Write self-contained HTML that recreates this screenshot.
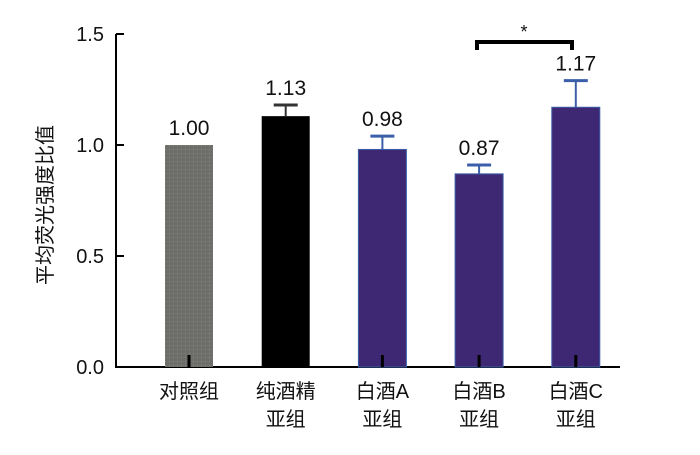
<!DOCTYPE html>
<html><head><meta charset="utf-8"><style>
body{margin:0;background:#fff;}
svg{display:block;font-family:"Liberation Sans","Noto Sans CJK SC",sans-serif;}
</style></head><body>
<svg id="chart" width="700" height="455" viewBox="0 0 700 455">
<defs><pattern id="dots" width="4" height="4" patternUnits="userSpaceOnUse"><rect width="4" height="4" fill="#6e6e6a"/><rect x="1" y="1" width="1" height="1" fill="#8a8a86"/></pattern></defs>
<g id="axes"></g><g id="bars"></g><g id="labels"></g>
<text x="0" y="0" transform="translate(52,205) rotate(-90)" text-anchor="middle" font-size="20" fill="#111">平均荧光强度比值</text>
<path d="M477,50 V42 H572 V50" fill="none" stroke="#000" stroke-width="4"/>
<text x="524" y="38" text-anchor="middle" font-size="18" fill="#111">*</text>
</svg>
<script>
const categories=[["对照组"],["纯酒精","亚组"],["白酒A","亚组"],["白酒B","亚组"],["白酒C","亚组"]];
const values=[1.00,1.13,0.98,0.87,1.17];
const errors=[0,0.05,0.06,0.04,0.12];
const valueLabels=["1.00","1.13","0.98","0.87","1.17"];
const ticks=[0,0.5,1.0,1.5];
const tickLabels=["0.0","0.5","1.0","1.5"];
const colors=["url(#dots)","#000","#3f2873","#3f2873","#3f2873"];
const NS="http://www.w3.org/2000/svg";
const y=v=>367-v*222;
const x=i=>189+i*96.7;
function mk(t,a,p){const e=document.createElementNS(NS,t);for(const k in a)e.setAttribute(k,a[k]);p.appendChild(e);return e;}
const ax=document.getElementById('axes'),bg=document.getElementById('bars'),lg=document.getElementById('labels');
const yl=mk('line',{x1:116,x2:116,y1:y(1.5),y2:y(0),stroke:'#000','stroke-width':2},ax);


const xl=mk('line',{x1:115,x2:620,y1:y(0),y2:y(0),stroke:'#000','stroke-width':2},ax);


ticks.forEach((t,i)=>{
 const tk=mk('line',{x1:116,x2:124,y1:y(t),y2:y(t),stroke:'#000','stroke-width':2},ax);
 
 
 const tl=mk('text',{x:104,y:y(t)+7,'text-anchor':'end','font-size':20,fill:'#111'},ax);
 tl.textContent=tickLabels[i];
 
 
});
values.forEach((v,i)=>{
 const cx=x(i),w=48;
 if(errors[i]>0){
  const c=i==1?'#333':'#3b5fa8';
  const el=mk('line',{x1:cx,x2:cx,y1:y(v),y2:y(v+errors[i]),stroke:c,'stroke-width':2},bg);
  
  
  const cap=mk('line',{x1:cx-12,x2:cx+12,y1:y(v+errors[i]),y2:y(v+errors[i]),stroke:c,'stroke-width':3},bg);
  
  
 }
 const r=mk('rect',{x:cx-w/2,y:y(v),width:w,height:y(0)-y(v),fill:colors[i],stroke:i>1?'#3b5fa8':'none','stroke-width':1},bg);
 
 
 const tk=mk('line',{x1:cx,x2:cx,y1:y(0),y2:y(0)-12,stroke:'#000','stroke-width':3},bg);
 
 
 const vl=mk('text',{x:cx,y:y(v+errors[i])-10,'text-anchor':'middle','font-size':21,fill:'#111'},lg);
 vl.textContent=valueLabels[i];
 
 
 categories[i].forEach((ln,j)=>{
  const cl=mk('text',{x:cx,y:398+j*28,'text-anchor':'middle','font-size':20,fill:'#111'},lg);
  cl.textContent=ln;
  
  
 });
});
</script>
</body></html>
